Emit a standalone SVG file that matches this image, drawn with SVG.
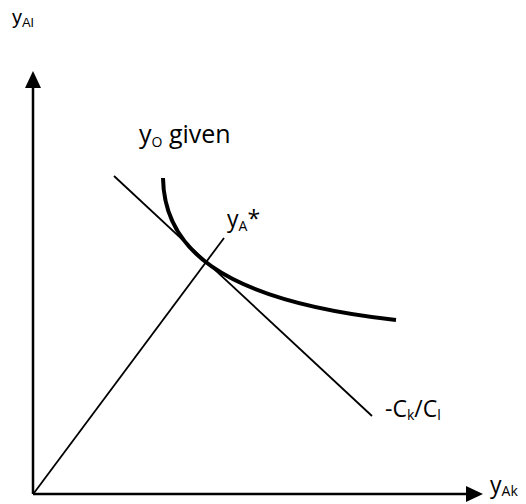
<svg xmlns="http://www.w3.org/2000/svg" width="526" height="504" viewBox="0 0 526 504">
<style>
.ax{stroke:#000;stroke-width:2.5;fill:none}
.ln{stroke:#000;stroke-width:1.8;fill:none}
.cv{stroke:#000;stroke-width:4;fill:none}
.t{font-family:"Open Sans","Liberation Sans",sans-serif;font-size:23px;fill:#000}
.s{font-size:14px}
.ta{font-family:"Liberation Sans",Arial,sans-serif;font-size:20px;fill:#000}
</style>
<g id="connectors">
<line class="ax" x1="33" y1="494" x2="33" y2="86"/>
<polygon points="33,71 25,88 41,88" fill="#000"/>
<line class="ax" x1="33" y1="494" x2="468" y2="494"/>
<polygon points="483,494 466,486 466,502" fill="#000"/>
<line class="ln" x1="34" y1="493" x2="224" y2="238"/>
<line class="ln" x1="114" y1="176" x2="372" y2="416"/>
<path class="cv" d="M163,178 C164,245 215,300 396,320"/>
</g>
<g id="label-yAl"><text class="ta" x="12" y="24">y<tspan class="s" style="font-size:13px" dy="3">Al</tspan></text></g>
<g id="label-yO"><text class="t" x="139" y="143" style="font-size:25px">y<tspan class="s" dy="4">O</tspan><tspan dy="-4"> given</tspan></text></g>
<g id="label-yA"><text class="t" x="227" y="227">y<tspan class="s" dy="4">A</tspan><tspan dy="-4">*</tspan></text></g>
<g id="label-slope"><text class="t" x="385" y="417">-C<tspan class="s" dy="3">k</tspan><tspan dy="-3">/C</tspan><tspan class="s" dy="3">l</tspan></text></g>
<g id="label-yAk"><text class="t" x="490" y="493">y<tspan class="s" dy="3">Ak</tspan></text></g>
</svg>
